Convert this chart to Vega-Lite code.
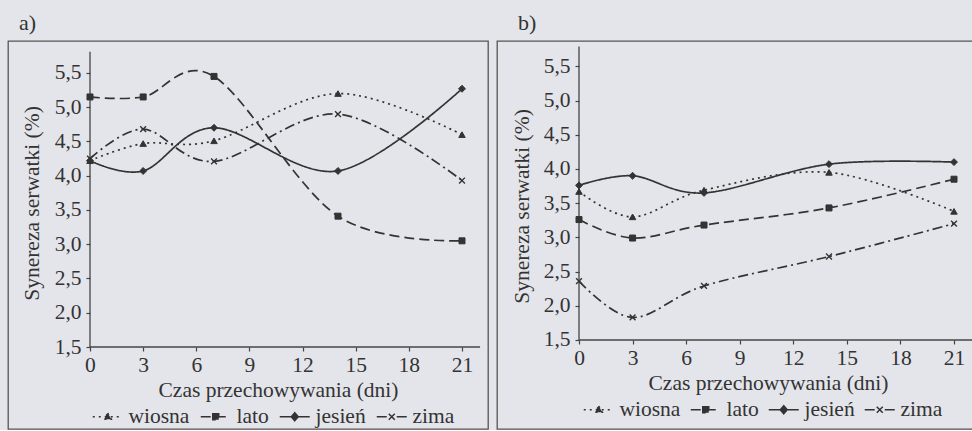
{
  "$schema": "https://vega.github.io/schema/vega-lite/v6.json",
  "background": "#e4e5ea",
  "padding": {"left": 7, "top": 11, "right": 0, "bottom": 0},
  "spacing": 7,
  "resolve": {"scale": {"strokeDash": "independent"}, "legend": {"strokeDash": "independent"}},
  "config": {
    "font": "Liberation Serif, DejaVu Serif, serif",
    "view": {"stroke": "#555", "strokeWidth": 1.3},
    "axis": {"labelFont": "Liberation Serif, DejaVu Serif, serif", "titleFont": "Liberation Serif, DejaVu Serif, serif", "labelFontSize": 21.5, "titleFontSize": 21.5, "titleFontWeight": "normal", "labelColor": "#333", "titleColor": "#333", "tickColor": "#444", "tickSize": 4, "tickWidth": 1.2, "domain": false, "grid": false},
    "legend": {"labelFont": "Liberation Serif, DejaVu Serif, serif", "labelFontSize": 21.5, "labelColor": "#333"},
    "title": {"font": "Liberation Serif, DejaVu Serif, serif", "fontSize": 22, "fontWeight": "normal", "color": "#333"}
  },
  "datasets": {
    "pts": [
      {"panel": "a", "season": "wiosna", "day": 0, "value": 4.22},
      {"panel": "a", "season": "wiosna", "day": 3, "value": 4.47},
      {"panel": "a", "season": "wiosna", "day": 7, "value": 4.51},
      {"panel": "a", "season": "wiosna", "day": 14, "value": 5.20},
      {"panel": "a", "season": "wiosna", "day": 21, "value": 4.60},
      {"panel": "a", "season": "lato", "day": 0, "value": 5.15},
      {"panel": "a", "season": "lato", "day": 3, "value": 5.15},
      {"panel": "a", "season": "lato", "day": 7, "value": 5.45},
      {"panel": "a", "season": "lato", "day": 14, "value": 3.41},
      {"panel": "a", "season": "lato", "day": 21, "value": 3.05},
      {"panel": "a", "season": "jesień", "day": 0, "value": 4.22},
      {"panel": "a", "season": "jesień", "day": 3, "value": 4.07},
      {"panel": "a", "season": "jesień", "day": 7, "value": 4.70},
      {"panel": "a", "season": "jesień", "day": 14, "value": 4.07},
      {"panel": "a", "season": "jesień", "day": 21, "value": 5.27},
      {"panel": "a", "season": "zima", "day": 0, "value": 4.25},
      {"panel": "a", "season": "zima", "day": 3, "value": 4.68},
      {"panel": "a", "season": "zima", "day": 7, "value": 4.21},
      {"panel": "a", "season": "zima", "day": 14, "value": 4.90},
      {"panel": "a", "season": "zima", "day": 21, "value": 3.93},
      {"panel": "b", "season": "wiosna", "day": 0, "value": 3.67},
      {"panel": "b", "season": "wiosna", "day": 3, "value": 3.30},
      {"panel": "b", "season": "wiosna", "day": 7, "value": 3.69},
      {"panel": "b", "season": "wiosna", "day": 14, "value": 3.95},
      {"panel": "b", "season": "wiosna", "day": 21, "value": 3.38},
      {"panel": "b", "season": "lato", "day": 0, "value": 3.26},
      {"panel": "b", "season": "lato", "day": 3, "value": 2.99},
      {"panel": "b", "season": "lato", "day": 7, "value": 3.18},
      {"panel": "b", "season": "lato", "day": 14, "value": 3.43},
      {"panel": "b", "season": "lato", "day": 21, "value": 3.85},
      {"panel": "b", "season": "jesień", "day": 0, "value": 3.76},
      {"panel": "b", "season": "jesień", "day": 3, "value": 3.90},
      {"panel": "b", "season": "jesień", "day": 7, "value": 3.65},
      {"panel": "b", "season": "jesień", "day": 14, "value": 4.07},
      {"panel": "b", "season": "jesień", "day": 21, "value": 4.10},
      {"panel": "b", "season": "zima", "day": 0, "value": 2.36},
      {"panel": "b", "season": "zima", "day": 3, "value": 1.83},
      {"panel": "b", "season": "zima", "day": 7, "value": 2.29},
      {"panel": "b", "season": "zima", "day": 14, "value": 2.72},
      {"panel": "b", "season": "zima", "day": 21, "value": 3.20}
    ],
    "axes": [
      {"panel": "a", "day": 0, "day2": 0, "value": 1.5, "value2": 5.81},
      {"panel": "a", "day": 0, "day2": 22.02, "value": 1.5, "value2": 1.5},
      {"panel": "b", "day": 0, "day2": 0, "value": 1.5, "value2": 5.79},
      {"panel": "b", "day": 0, "day2": 22.6, "value": 1.5, "value2": 1.5}
    ]
  },
  "hconcat": [
    {
      "width": 480,
      "height": 388,
      "title": {"text": "a)", "anchor": "start", "frame": "group", "dx": 11, "offset": 6},
      "data": {"name": "pts"},
      "transform": [{"filter": "datum.panel == 'a'"}],
      "encoding": {
        "x": {"field": "day", "type": "quantitative", "scale": {"domain": [-4.629, 22.468], "nice": false, "zero": false},
              "axis": {"title": "Czas przechowywania (dni)", "values": [0, 3, 6, 9, 12, 15, 18, 21], "offset": -82, "labelPadding": 3, "titleX": 270, "titleY": 49, "titleBaseline": "alphabetic", "format": "d"}},
        "y": {"field": "value", "type": "quantitative", "scale": {"domain": [0.303, 5.967], "nice": false, "zero": false},
              "axis": {"title": "Synereza serwatki (%)", "values": [1.5, 2, 2.5, 3, 3.5, 4, 4.5, 5, 5.5], "offset": -82, "labelPadding": 5, "labelExpr": "replace(format(datum.value, '.1f'), '.', ',')", "titleX": -52, "titleY": 162, "titleBaseline": "alphabetic", "titleAngle": 270, "titleAlign": "center"}}
      },
      "layer": [
        {
          "data": {"name": "axes"},
          "transform": [{"filter": "datum.panel == 'a'"}],
          "mark": {"type": "rule", "color": "#444", "strokeWidth": 1.3},
          "encoding": {"x2": {"field": "day2"}, "y2": {"field": "value2"}}
        },
        {
          "mark": {"type": "line", "interpolate": "cardinal", "tension": 0, "color": "#333", "strokeWidth": 1.7},
          "encoding": {
            "strokeDash": {"field": "season", "type": "nominal",
              "scale": {"domain": ["wiosna", "lato", "jesień", "zima"], "range": [[2, 4], [10, 5], [1, 0], [10, 4, 2, 4]]},
              "legend": {"orient": "none", "legendX": 80, "legendY": 365, "direction": "horizontal", "columns": 4, "gridAlign": "none", "title": null,
                "symbolSize": 100, "symbolStrokeWidth": 1.4, "symbolOffset": 9, "labelOffset": 10, "columnPadding": 6,
                "symbolStrokeColor": "#333", "symbolFillColor": "#333",
                "encode": {"symbols": {"update": {
                  "shape": {"signal": "datum.value === 'wiosna' ? 'M-3,0H3M0,-0.75L0.7,0.5H-0.7Z' : datum.value === 'lato' ? 'M-3,0H3M-0.6,-0.6H0.6V0.6H-0.6Z' : datum.value === 'jesień' ? 'M-3,0H3M0,-0.8L0.7,0L0,0.8L-0.7,0Z' : 'M-3,0H3M-0.6,-0.6L0.6,0.6M-0.6,0.6L0.6,-0.6'"},
                  "fill": {"value": "#333"}, "stroke": {"value": "#333"}, "strokeWidth": {"value": 1.5}}}}}
            }
          }
        },
        {
          "transform": [{"filter": "datum.season == 'wiosna'"}],
          "mark": {"type": "point", "shape": "triangle-up", "filled": true, "fill": "#333", "stroke": "#333", "strokeWidth": 1, "size": 42, "opacity": 1}
        },
        {
          "transform": [{"filter": "datum.season == 'lato'"}],
          "mark": {"type": "point", "shape": "square", "filled": true, "fill": "#333", "stroke": "#333", "strokeWidth": 1, "size": 36, "opacity": 1}
        },
        {
          "transform": [{"filter": "datum.season == 'jesień'"}],
          "mark": {"type": "point", "shape": "diamond", "filled": true, "fill": "#333", "stroke": "#333", "strokeWidth": 1, "size": 48, "opacity": 1}
        },
        {
          "transform": [{"filter": "datum.season == 'zima'"}],
          "mark": {"type": "point", "shape": "M-1,-1L1,1M-1,1L1,-1", "filled": false, "stroke": "#333", "strokeWidth": 1.4, "size": 34, "opacity": 1}
        }
      ]
    },
    {
      "width": 490,
      "height": 388,
      "title": {"text": "b)", "anchor": "start", "frame": "group", "dx": 21, "offset": 6},
      "data": {"name": "pts"},
      "transform": [{"filter": "datum.panel == 'b'"}],
      "encoding": {
        "x": {"field": "day", "type": "quantitative", "scale": {"domain": [-4.592, 22.848], "nice": false, "zero": false},
              "axis": {"title": "Czas przechowywania (dni)", "values": [0, 3, 6, 9, 12, 15, 18, 21], "offset": -89, "labelPadding": 3, "titleX": 271, "titleY": 49, "titleBaseline": "alphabetic", "format": "d"}},
        "y": {"field": "value", "type": "quantitative", "scale": {"domain": [0.199, 5.870], "nice": false, "zero": false},
              "axis": {"title": "Synereza serwatki (%)", "values": [1.5, 2, 2.5, 3, 3.5, 4, 4.5, 5, 5.5], "offset": -82, "labelPadding": 5, "labelExpr": "replace(format(datum.value, '.1f'), '.', ',')", "titleX": -51, "titleY": 165, "titleBaseline": "alphabetic", "titleAngle": 270, "titleAlign": "center"}}
      },
      "layer": [
        {
          "data": {"name": "axes"},
          "transform": [{"filter": "datum.panel == 'b'"}],
          "mark": {"type": "rule", "color": "#444", "strokeWidth": 1.3},
          "encoding": {"x2": {"field": "day2"}, "y2": {"field": "value2"}}
        },
        {
          "mark": {"type": "line", "interpolate": "cardinal", "tension": 0, "color": "#333", "strokeWidth": 1.7},
          "encoding": {
            "strokeDash": {"field": "season", "type": "nominal",
              "scale": {"domain": ["wiosna", "lato", "jesień", "zima"], "range": [[2, 4], [10, 5], [1, 0], [10, 4, 2, 4]]},
              "legend": {"orient": "none", "legendX": 82, "legendY": 358, "direction": "horizontal", "columns": 4, "gridAlign": "none", "title": null,
                "symbolSize": 100, "symbolStrokeWidth": 1.4, "symbolOffset": 9, "labelOffset": 10, "columnPadding": 5,
                "symbolStrokeColor": "#333", "symbolFillColor": "#333",
                "encode": {"symbols": {"update": {
                  "shape": {"signal": "datum.value === 'wiosna' ? 'M-3,0H3M0,-0.75L0.7,0.5H-0.7Z' : datum.value === 'lato' ? 'M-3,0H3M-0.6,-0.6H0.6V0.6H-0.6Z' : datum.value === 'jesień' ? 'M-3,0H3M0,-0.8L0.7,0L0,0.8L-0.7,0Z' : 'M-3,0H3M-0.6,-0.6L0.6,0.6M-0.6,0.6L0.6,-0.6'"},
                  "fill": {"value": "#333"}, "stroke": {"value": "#333"}, "strokeWidth": {"value": 1.5}}}}}
            }
          }
        },
        {
          "transform": [{"filter": "datum.season == 'wiosna'"}],
          "mark": {"type": "point", "shape": "triangle-up", "filled": true, "fill": "#333", "stroke": "#333", "strokeWidth": 1, "size": 42, "opacity": 1}
        },
        {
          "transform": [{"filter": "datum.season == 'lato'"}],
          "mark": {"type": "point", "shape": "square", "filled": true, "fill": "#333", "stroke": "#333", "strokeWidth": 1, "size": 36, "opacity": 1}
        },
        {
          "transform": [{"filter": "datum.season == 'jesień'"}],
          "mark": {"type": "point", "shape": "diamond", "filled": true, "fill": "#333", "stroke": "#333", "strokeWidth": 1, "size": 48, "opacity": 1}
        },
        {
          "transform": [{"filter": "datum.season == 'zima'"}],
          "mark": {"type": "point", "shape": "M-1,-1L1,1M-1,1L1,-1", "filled": false, "stroke": "#333", "strokeWidth": 1.4, "size": 34, "opacity": 1}
        }
      ]
    }
  ]
}
